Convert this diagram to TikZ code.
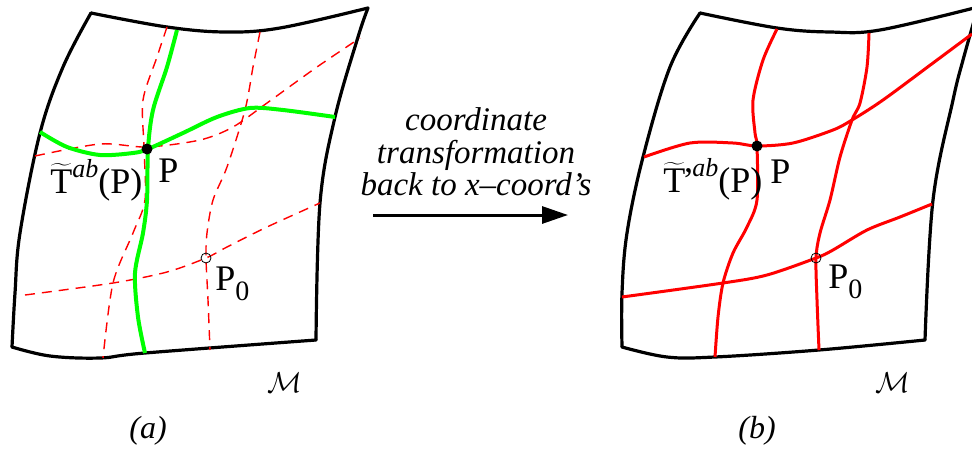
\documentclass[tikz,border=0pt]{standalone}
\usepackage{fontspec}
\setmainfont{Liberation Serif}
\usetikzlibrary{arrows.meta}

\newcommand{\tilT}{\(\widetilde{\mbox{T}}\)}
\newcommand{\upab}{\raisebox{0.42em}{\fontsize{13}{13}\selectfont\itshape ab}}
\newcommand{\dnzero}{\raisebox{-0.28em}{\fontsize{14}{14}\selectfont 0}}

\begin{document}
\begin{tikzpicture}[x=0.5pt, y=-0.5pt,
    sheet/.style={line width=1.6pt, line cap=round, line join=round},
    coordline/.style={red, line width=0.7pt, dash pattern=on 5pt off 3.5pt},
    greenline/.style={green, line width=2pt},
    redline/.style={red, line width=1.5pt},
    pdot/.style={circle, fill=black, inner sep=0pt, minimum size=5.5pt},
    pzero/.style={circle, draw=black, line width=0.4pt, inner sep=0pt, minimum size=5pt},
    lbl/.style={font=\fontsize{18}{20}\selectfont, inner sep=0pt, anchor=base west}]
    \useasboundingbox (0,0) rectangle (972,455);

    % (a) the manifold with the x-coordinates
    \draw[sheet] plot[smooth, tension=0.6] coordinates {(91,13) (167,27) (225,32) (280,28) (368,8)};
    \draw[sheet] plot[smooth, tension=0.6] coordinates {(368,8) (358,37) (335,117) (320,203) (316,340)};
    \draw[sheet] plot[smooth, tension=0.6] coordinates {(316,340) (145,353) (100,358) (50,356) (12,347)};
    \draw[sheet] plot[smooth, tension=0.6] coordinates {(12,347) (15,293) (20,233) (40,133) (63,67) (91,13)};

    \draw[coordline] plot[smooth] coordinates {(167,27) (157,57) (143,100) (144,147) (145,200) (133,233) (113,283) (103,358)};
    \draw[coordline] plot[smooth] coordinates {(260,32) (253,67) (245,110) (227,167) (213,200) (207,233) (206,258) (208,300) (210,350)};
    \draw[coordline] plot[smooth] coordinates {(35,156) (100,144) (147,147) (200,140) (233,127) (267,103) (317,67) (360,38)};
    \draw[coordline] plot[smooth] coordinates {(25,295) (113,283) (167,272) (206,258) (227,247) (267,227) (320,203)};

    \draw[greenline] plot[smooth] coordinates {(177,30) (167,67) (153,110) (148,149) (147,200) (143,233) (135,273) (138,317) (145,353)};
    \draw[greenline] plot[smooth] coordinates {(40,132) (67,147) (100,155) (133,153) (148,149) (183,133) (217,117) (250,108) (283,110) (335,117)};

    \node[pdot] (Pa) at (147,149) {};
    \node[pzero] (P0a) at (206,258) {};
    \node[lbl] (Ta) at (50,193) {\tilT\upab(P)};
    \node[lbl] (Pla) at (158,182) {P};
    \node[lbl] (P0la) at (215,290) {P\dnzero};
    \node[font=\fontsize{15}{16}\selectfont] (Ma) at (285,383) {$\mathcal{M}$};
    \node[font=\fontsize{16}{18}\selectfont\itshape] (capa) at (148,431) {(a)};

    % the transformation
    \node[align=center, font=\fontsize{16.5}{16.3}\selectfont\itshape] (trafo) at (476,152)
        {coordinate\\transformation\\back to x--coord’s};
    \coordinate (arrtail) at (373,215);
    \coordinate (arrtip) at (568,215);
    \draw[line width=1.5pt, -{Triangle[length=13pt, width=8.5pt]}] (arrtail) -- (arrtip);

    % (b) the same manifold, curves drawn solid
    \draw[sheet] plot[smooth, tension=0.6] coordinates {(700,13) (777,28) (830,32) (880,30) (978,7)};
    \draw[sheet] plot[smooth, tension=0.6] coordinates {(978,7) (963,60) (953,100) (933,200) (925,340)};
    \draw[sheet] plot[smooth, tension=0.6] coordinates {(925,340) (819,350) (715,357) (667,357) (622,347)};
    \draw[sheet] plot[smooth, tension=0.6] coordinates {(622,347) (622,293) (627,233) (643,157) (670,67) (700,13)};

    \draw[redline] plot[smooth] coordinates {(777,29) (763,60) (753,100) (755,133) (757,146) (757,200) (747,227) (733,253) (723,283) (718,317) (715,357)};
    \draw[redline] plot[smooth] coordinates {(869,33) (867,67) (860,103) (852,120) (840,157) (830,200) (820,233) (816,258) (817,300) (819,350)};
    \draw[redline] plot[smooth] coordinates {(644,157) (690,143) (733,143) (757,146) (793,143) (833,130) (852,120) (883,100) (933,63) (972,34)};
    \draw[redline] plot[smooth] coordinates {(622,297) (723,283) (767,275) (816,258) (833,250) (867,230) (900,217) (932,204)};

    \node[pdot] (Pb) at (757,146) {};
    \node[pzero] (P0b) at (816,258) {};
    \node[lbl] (Tb) at (663,192) {\tilT\kern-1.5pt’\kern-1pt\upab(P)};
    \node[lbl] (Plb) at (770,183) {P};
    \node[lbl] (P0lb) at (828,288) {P\dnzero};
    \node[font=\fontsize{15}{16}\selectfont] (Mb) at (893,383) {$\mathcal{M}$};
    \node[font=\fontsize{16}{18}\selectfont\itshape] (capb) at (757,431) {(b)};
\end{tikzpicture}
\end{document}
